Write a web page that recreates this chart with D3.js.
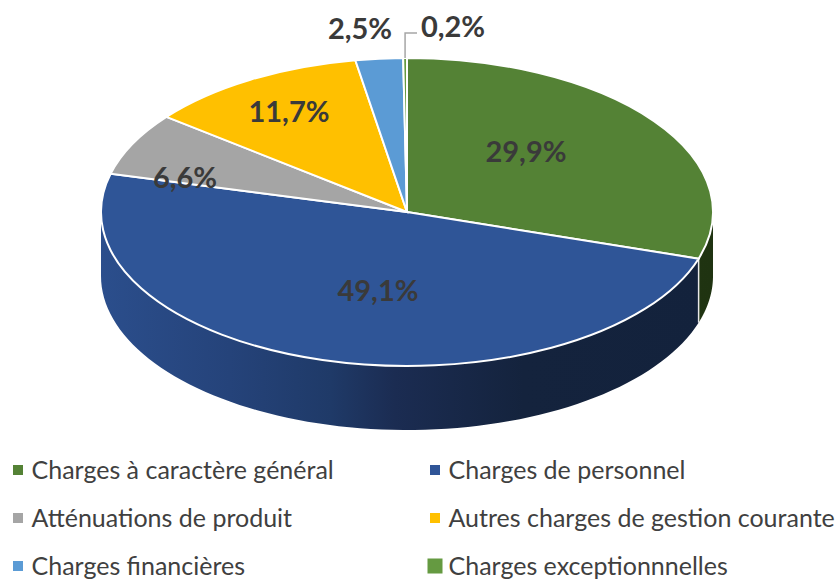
<!DOCTYPE html>
<html>
<head>
<meta charset="utf-8">
<script src="https://cdn.jsdelivr.net/npm/d3@7/dist/d3.min.js"></script>
<style>
  html, body { margin: 0; padding: 0; background: #fff; }
  svg { display: block; }
  text { font-family: Lato, "Open Sans", sans-serif; }
</style>
</head>
<body>
<div id="chart"></div>
<script>
// "exceptionnnelles" is spelled this way in the original legend
const categories = [
    "Charges à caractère général", "Charges de personnel", "Atténuations de produit",
    "Autres charges de gestion courante", "Charges financières", "Charges exceptionnnelles"
];
const values = [29.9, 49.1, 6.6, 11.7, 2.5, 0.2];
const valueLabels = ["29,9%", "49,1%", "6,6%", "11,7%", "2,5%", "0,2%"];
const colors = ["#548235", "#2f5597", "#a5a5a5", "#ffc000", "#5b9bd5", "#659a41"];

const width = 840;
const height = 579;
const cx = 407, cy = 212;   // centre of the top face
const rx = 306, ry = 154;
const depth = 64;

// label centres, picked by eye from the reference
const labelX = [526, 378, 185, 289, 360, 453];
const labelY = [152, 291, 178, 112, 29, 27];

const legendX = [13, 430];
const legendY = [470, 518, 566];
const markerSize = [10, 10, 10, 10, 10, 15]; // last one is bigger in the original

const svg = d3.select("#chart").append("svg")
    .attr("width", width)
    .attr("height", height);

const defs = svg.append("defs");

// side wall gradients, across the whole pie width
function wallGradient(id, stops) {
    const g = defs.append("linearGradient")
        .attr("id", id)
        .attr("gradientUnits", "userSpaceOnUse")
        .attr("x1", cx - rx).attr("x2", cx + rx)
        .attr("y1", 0).attr("y2", 0);
    stops.forEach(s => g.append("stop").attr("offset", s[0]).attr("stop-color", s[1]));
}
wallGradient("wall-blue", [[0, "#2b4e8c"], [0.21, "#25437a"], [0.375, "#1f3a68"], [0.48, "#1b2c52"], [0.69, "#14233d"], [1, "#13223c"]]);
wallGradient("wall-green", [[0, "#2b4419"], [1, "#1f3311"]]);

const pie = d3.pie().value(d => d).sort(null);
const slices = pie(values);

const px = a => cx + rx * Math.sin(a);
const py = a => cy - ry * Math.cos(a);

// outline of the part of a slice's wall that faces the viewer
function wallPath(d) {
    const a0 = Math.max(d.startAngle, Math.PI / 2);
    const a1 = Math.min(d.endAngle, 3 * Math.PI / 2);
    if (a0 >= a1) return null;
    const n = 80;
    const angles = d3.range(n + 1).map(i => a0 + (a1 - a0) * i / n);
    const p = d3.path();
    angles.forEach((a, i) => i ? p.lineTo(px(a), py(a)) : p.moveTo(px(a), py(a)));
    angles.reverse().forEach(a => p.lineTo(px(a), py(a) + depth));
    p.closePath();
    return p.toString();
}

const wallFill = ["url(#wall-green)", "url(#wall-blue)"];

svg.append("g").selectAll("path")
    .data(slices.filter(d => wallPath(d)))
    .enter()
    .append("path")
    .attr("d", wallPath)
    .attr("fill", (d, i) => wallFill[i])
    .attr("stroke", "none");

// white edge where the two walls meet
const joint = slices[0].endAngle;
svg.append("line")
    .attr("x1", px(joint)).attr("y1", py(joint))
    .attr("x2", px(joint)).attr("y2", py(joint) + depth)
    .attr("stroke", "#e8e8e8")
    .attr("stroke-width", 1.5);

// top face: a normal d3 arc squashed into an ellipse
const arc = d3.arc().innerRadius(0).outerRadius(rx);

svg.append("g")
    .attr("transform", `translate(${cx},${cy}) scale(1,${ry / rx})`)
    .selectAll("path")
    .data(slices)
    .enter()
    .append("path")
    .attr("d", arc)
    .attr("fill", (d, i) => colors[i])
    .attr("stroke", "#fff")
    .attr("stroke-width", 2)
    .attr("vector-effect", "non-scaling-stroke");

// leader line for the 0,2% label
const tiny = (slices[5].startAngle + slices[5].endAngle) / 2;
svg.append("path")
    .attr("d", d3.line()([[px(tiny), py(tiny)], [px(tiny), 33], [417, 33]]))
    .attr("fill", "none")
    .attr("stroke", "#a6a6a6")
    .attr("stroke-width", 1.5);

svg.append("g").selectAll("text")
    .data(valueLabels)
    .enter()
    .append("text")
    .attr("x", (d, i) => labelX[i])
    .attr("y", (d, i) => labelY[i])
    .attr("dy", "0.35em")
    .attr("text-anchor", "middle")
    .attr("fill", "#3a3a3a")
    .style("font-size", "29px")
    .style("font-weight", "bold")
    .text(d => d);

// legend, two columns filled row by row
const legend = svg.append("g").selectAll("g")
    .data(categories)
    .enter()
    .append("g")
    .attr("transform", (d, i) => `translate(${legendX[i % 2]},${legendY[Math.floor(i / 2)]})`);

legend.append("rect")
    .attr("x", (d, i) => 5 - markerSize[i] / 2)
    .attr("y", (d, i) => -markerSize[i] / 2)
    .attr("width", (d, i) => markerSize[i])
    .attr("height", (d, i) => markerSize[i])
    .attr("fill", (d, i) => colors[i]);

legend.append("text")
    .attr("x", 18.5)
    .attr("dy", "0.35em")
    .attr("fill", "#404040")
    .style("font-size", "25px")
    .text(d => d);
</script>
</body>
</html>
